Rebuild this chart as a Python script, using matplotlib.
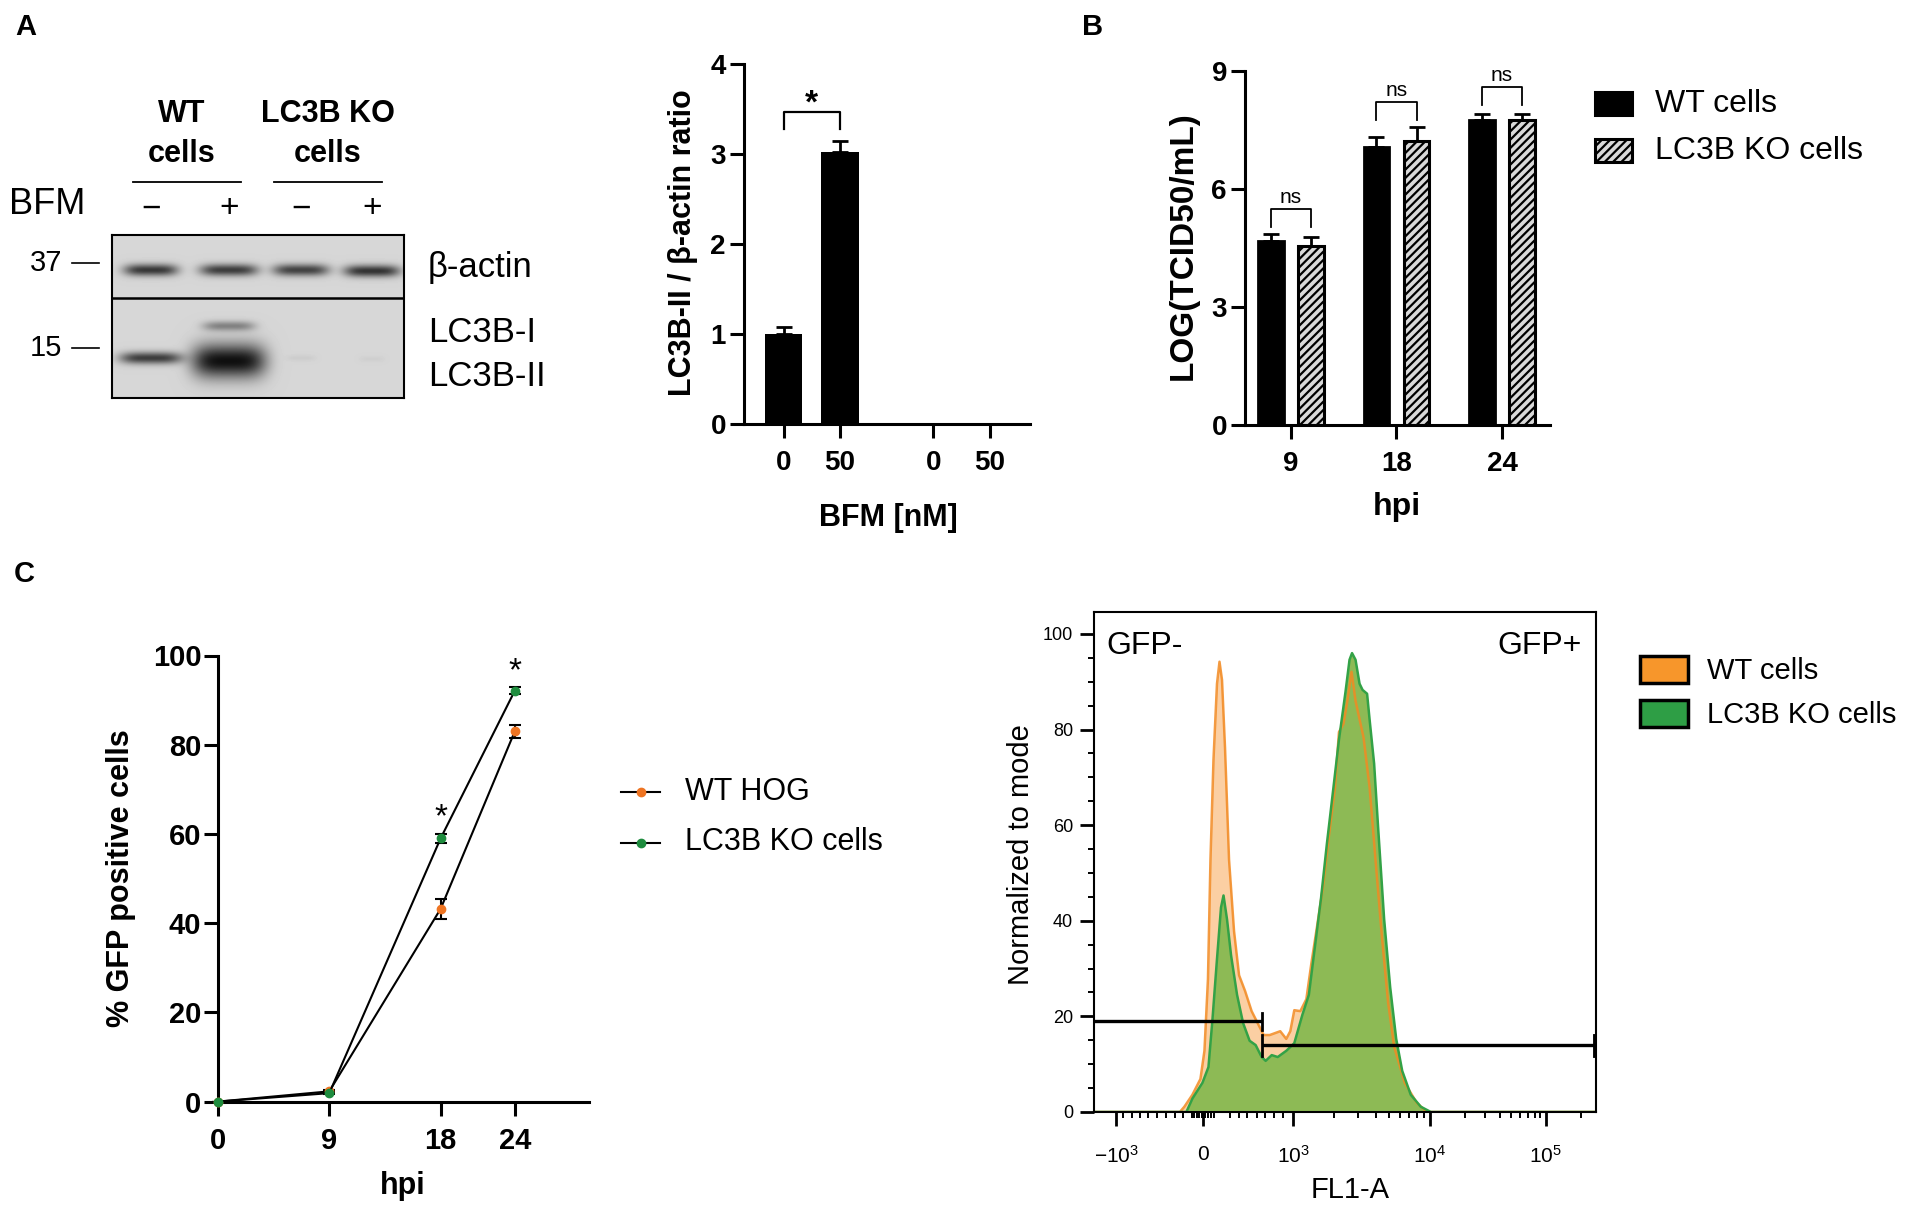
import numpy as np
import matplotlib
matplotlib.use("Agg")
import matplotlib.pyplot as plt
from matplotlib.patches import Rectangle

W, H = 1908, 1206

plt.rcParams['font.family'] = ['Liberation Sans', 'DejaVu Sans']
plt.rcParams['hatch.linewidth'] = 1.6

# ---------------- data ----------------
# A, western blot: lanes WT-, WT+, KO-, KO+
blot_signs = ['\u2212', '+', '\u2212', '+']
lane_px = [39, 117, 189, 260]            # lane centres inside the blot (px)
# (lane, row, half width, half height, darkness)
blot_bands = [
    (0, 35, 27, 6, 0.62), (1, 35, 29, 6, 0.60), (2, 35, 28, 6, 0.58), (3, 36, 28, 6, 0.64),
    (1, 91, 26, 5, 0.32),
    (0, 123, 31, 6, 0.60), (1, 126, 37, 17, 0.78),
    (2, 123, 14, 3, 0.04), (3, 124, 12, 3, 0.03),
]

# A, densitometry
ratio_pos = [0, 1, 2.65, 3.65]
ratio_labels = ['0', '50', '0', '50']
ratio_mean = [1.00, 3.02, 0, 0]
ratio_err = [0.08, 0.12, 0, 0]

# B, virus titre
hpi_groups = ['9', '18', '24']
titre_wt = [4.68, 7.06, 7.75]
titre_wt_err = [0.18, 0.26, 0.16]
titre_ko = [4.56, 7.22, 7.75]
titre_ko_err = [0.21, 0.35, 0.16]
ns_top = [5.48, 8.21, 8.59]
titre_labels = ['WT cells', 'LC3B KO cells']

# C, % GFP positive cells
hpi = [0, 9, 18, 24]
gfp_wt = [0, 2.3, 43.2, 83.0]
gfp_wt_err = [0, 0.3, 2.3, 1.5]
gfp_ko = [0, 1.9, 59.0, 92.1]
gfp_ko_err = [0, 0.3, 1.0, 0.8]
star_hpi = [18, 24]
star_y = [63.6, 96.3]
line_labels = ['WT HOG', 'LC3B KO cells']
line_colors = ['#EE7422', '#1E8C3E']

# C, flow histogram (x in display channels 0-1000, y normalized to mode)
flow_x_wt = [0, 171, 180, 196, 212, 220, 227, 232, 238, 245, 250, 255, 261, 269, 279, 289,
             301, 314, 326, 338, 350, 371, 383, 391, 399, 411, 423, 433, 444, 456, 468, 480,
             488, 497, 505, 513, 521, 537, 549, 562, 574, 586, 598, 619, 643, 659, 667, 1000]
flow_y_wt = [0, 0, 1.1, 3.6, 6.9, 12.8, 27.8, 52.8, 73.7, 89.6, 94.2, 90.4, 76.2, 52.8, 37.8, 28.6,
             25.3, 21.1, 18.6, 16.1, 16.1, 16.9, 15.3, 16.9, 21.3, 21.1, 23.6, 31.1, 38.6, 47.0, 57.8, 67.9,
             79.5, 81.2, 86.2, 92.1, 86.0, 78.3, 67.9, 51.2, 36.1, 22.8, 13.6, 6.1, 1.9, 0.4, 0, 0]
flow_x_ko = [0, 184, 196, 216, 228, 236, 245, 253, 258, 265, 273, 285, 297, 310, 322, 334,
             342, 354, 366, 383, 399, 415, 428, 440, 452, 464, 476, 488, 501, 509, 514, 521,
             529, 535, 544, 549, 558, 566, 578, 590, 602, 614, 631, 651, 671, 1000]
flow_y_ko = [0, 0, 2.8, 6.1, 9.4, 19.4, 32.0, 42.8, 45.3, 40.3, 32.8, 24.5, 18.6, 14.9, 14.0, 11.5,
             10.7, 11.9, 11.5, 12.8, 14.4, 20.3, 24.5, 34.5, 44.5, 56.2, 67.0, 77.9, 87.9, 94.6, 96.0, 94.6,
             89.6, 88.3, 87.5, 82.1, 72.9, 59.5, 40.3, 26.1, 15.3, 8.6, 3.6, 1.1, 0, 0]
gate_neg = (0, 334, 19.0)
gate_pos = (334, 998, 14.0)
flow_major = [44, 217, 397, 669, 900]
flow_major_labels = [r'$\mathregular{-10^3}$', '0', r'$\mathregular{10^3}$',
                     r'$\mathregular{10^4}$', r'$\mathregular{10^5}$']
flow_lin_minor = [58, 75, 92, 108, 125, 143, 161, 178, 195, 200, 205, 210, 215, 222, 228,
                  234, 240, 271, 288, 304, 324, 341, 359, 377]
flow_labels = ['WT cells', 'LC3B KO cells']
flow_colors = ['#F7962B', '#2E9E45']


def px_axes(fig, rect):
    l, t, r, b = rect
    return fig.add_axes([l / W, 1 - b / H, (r - l) / W, (b - t) / H])


def label_at(ax, rect, which, x, y):
    l, t, r, b = rect
    axis = ax.xaxis if which == 'x' else ax.yaxis
    axis.set_label_coords((x - l) / (r - l), (b - y) / (b - t))
    axis.label.set_va('center')


def prism(ax, fs=20):
    for s in ['top', 'right']:
        ax.spines[s].set_visible(False)
    for s in ['left', 'bottom']:
        ax.spines[s].set_linewidth(2.2)
    ax.tick_params(width=2.2, length=10, labelsize=fs)
    for lab in ax.get_xticklabels() + ax.get_yticklabels():
        lab.set_fontweight('bold')


fig = plt.figure(figsize=(W / 100, H / 100), dpi=100)
ov = fig.add_axes([0, 0, 1, 1])
ov.set_xlim(0, W)
ov.set_ylim(H, 0)
ov.axis('off')

# panel letters
for letter, (x, y) in zip('ABC', [(26, 27), (1093, 27), (24, 574)]):
    ov.text(x, y, letter, fontsize=21, fontweight='bold', ha='center', va='center')

# ---------------- A: blot ----------------
blot_rect = (112, 235, 404, 398)
axb = px_axes(fig, blot_rect)
rows = np.arange(163)[:, None] + 0.5
cols = np.arange(292)[None, :] + 0.5
img = np.full((163, 292), 0.84)
for lane, row, hw, hh, dark in blot_bands:
    cx = lane_px[lane]
    img -= dark * np.exp(-np.abs((cols - cx) / hw) ** 4 - ((rows - row) / hh) ** 2)
img = np.clip(img, 0, 1)
axb.imshow(img, cmap='gray', vmin=0, vmax=1, extent=(0, 292, 163, 0), aspect='auto',
           interpolation='bilinear')
axb.axhline(63, color='black', lw=1.8)
axb.set_xticks([])
axb.set_yticks([])
for s in axb.spines.values():
    s.set_linewidth(1.5)

for x, s in zip(lane_px, blot_signs):
    ov.text(112 + x, 209, s, fontsize=24, ha='center', va='center')
ov.text(9, 205, 'BFM', fontsize=26, ha='left', va='center')
for cx, l1, (x0, x1) in [(182, 'WT', (133, 241)), (328, 'LC3B KO', (274, 382))]:
    ov.text(cx, 114, l1, fontsize=22, fontweight='bold', ha='center', va='center')
    ov.text(cx, 154, 'cells', fontsize=22, fontweight='bold', ha='center', va='center')
    ov.plot([x0, x1], [182, 182], color='black', lw=1.3)
for y, mw in [(263, '37'), (348, '15')]:
    ov.text(62, y, mw, fontsize=21, ha='right', va='center')
    ov.plot([72, 99], [y, y], color='black', lw=1.2)
for y, name in [(268, '\u03b2-actin'), (332, 'LC3B-I'), (377, 'LC3B-II')]:
    ov.text(428, y, name, fontsize=25, ha='left', va='center')

# ---------------- A: ratio bars ----------------
ra_rect = (744, 64, 1029.5, 424)
axa = px_axes(fig, ra_rect)
axa.bar(ratio_pos, ratio_mean, width=0.66, color='black')
has = np.array(ratio_mean) > 0
axa.errorbar(np.array(ratio_pos)[has], np.array(ratio_mean)[has],
             yerr=[np.zeros(has.sum()), np.array(ratio_err)[has]],
             fmt='none', ecolor='black', elinewidth=2, capsize=6, capthick=2)
axa.set_xlim(-0.70, 4.35)
axa.set_ylim(0, 4)
axa.set_yticks([0, 1, 2, 3, 4])
axa.set_xticks(ratio_pos, ratio_labels)
axa.tick_params(axis='y', pad=3)
axa.tick_params(axis='x', pad=9)
prism(axa, 20)
axa.plot([0, 0, 1, 1], [3.28, 3.47, 3.47, 3.28], color='black', lw=1.6)
axa.text(0.5, 3.56, '*', fontsize=24, fontweight='bold', ha='center', va='center')
axa.set_ylabel('LC3B-II / \u03b2-actin ratio', fontsize=22, fontweight='bold')
axa.set_xlabel('BFM [nM]', fontsize=22, fontweight='bold')
label_at(axa, ra_rect, 'y', 683, 243)
label_at(axa, ra_rect, 'x', 888, 518)

# ---------------- B: titre ----------------
b_rect = (1245, 71, 1550, 425)
axt = px_axes(fig, b_rect)
gx = np.arange(len(hpi_groups))
off, bw = 0.19, 0.24
axt.bar(gx - off, titre_wt, width=bw, color='black', edgecolor='black', lw=2)
axt.bar(gx + off, titre_ko, width=bw, color='#d9d9d9', edgecolor='black', lw=2.2, hatch='////')
for xs, m, e in [(gx - off, titre_wt, titre_wt_err), (gx + off, titre_ko, titre_ko_err)]:
    axt.errorbar(xs, m, yerr=[np.zeros(len(e)), e], fmt='none', ecolor='black',
                 elinewidth=2, capsize=5.5, capthick=2)
for x, top in zip(gx, ns_top):
    axt.plot([x - off, x - off, x + off, x + off], [top - 0.45, top, top, top - 0.45],
             color='black', lw=1.3)
    axt.text(x, top + 0.3, 'ns', fontsize=15, ha='center', va='center')
axt.set_xlim(-0.436, 2.455)
axt.set_ylim(0, 9)
axt.set_yticks([0, 3, 6, 9])
axt.set_xticks(gx, hpi_groups)
axt.tick_params(axis='y', pad=3)
axt.tick_params(axis='x', pad=9)
prism(axt, 20)
axt.set_ylabel('LOG(TCID50/mL)', fontsize=24, fontweight='bold')
axt.set_xlabel('hpi', fontsize=23, fontweight='bold')
label_at(axt, b_rect, 'y', 1183, 246)
label_at(axt, b_rect, 'x', 1397, 507)

for i, lab in enumerate(titre_labels):
    y0 = 92 + 47 * i
    ov.add_patch(Rectangle((1595, y0), 37, 23, facecolor='black' if i == 0 else '#d9d9d9',
                           edgecolor='black', lw=2.2, hatch=None if i == 0 else '////'))
    ov.text(1655, y0 + 12, lab, fontsize=23, ha='left', va='center')

# ---------------- C: GFP kinetics ----------------
c_rect = (218, 655.5, 589, 1101.6)
axc = px_axes(fig, c_rect)
for m, e, col in [(gfp_wt, gfp_wt_err, line_colors[0]), (gfp_ko, gfp_ko_err, line_colors[1])]:
    axc.errorbar(hpi, m, yerr=e, color='black', lw=1.5, elinewidth=1.5, capsize=4, capthick=1.5,
                 marker='o', ms=6, mfc=col, mec=col, clip_on=False, zorder=3)
for x, y in zip(star_hpi, star_y):
    axc.text(x, y, '*', fontsize=24, ha='center', va='center')
axc.set_xlim(0, 30)
axc.set_ylim(0, 100)
axc.set_xticks(hpi)
axc.set_yticks(range(0, 101, 20))
axc.tick_params(axis='y', pad=2)
axc.tick_params(axis='x', pad=8)
prism(axc, 21)
axc.set_ylabel('% GFP positive cells', fontsize=22, fontweight='bold')
axc.set_xlabel('hpi', fontsize=22, fontweight='bold')
label_at(axc, c_rect, 'y', 121, 878)
label_at(axc, c_rect, 'x', 403, 1186)

for i, (lab, col) in enumerate(zip(line_labels, line_colors)):
    y = 791.5 + 51 * i
    ov.plot([621, 660], [y, y], color='black', lw=1.5)
    ov.plot([641], [y], 'o', ms=6, color=col)
    ov.text(685, y, lab, fontsize=22, ha='left', va='center')

# ---------------- C: flow histogram ----------------
f_rect = (1094, 612, 1596, 1112)
axf = px_axes(fig, f_rect)
axf.fill_between(flow_x_wt, flow_y_wt, color='#FBCFA3', lw=0)
axf.fill_between(flow_x_ko, flow_y_ko, color='#8DBA55', lw=0)
axf.plot(flow_x_wt, flow_y_wt, color='#F28A22', lw=1.8, alpha=0.85)
axf.plot(flow_x_ko, flow_y_ko, color='#33A246', lw=1.8)
for x0, x1, y in [gate_neg, gate_pos]:
    axf.plot([x0, x1], [y, y], color='black', lw=2.4, solid_capstyle='butt')
axf.plot([gate_neg[1]] * 2, [gate_neg[2] - 1.8, gate_neg[2] + 1.8], color='black', lw=2)
axf.plot([gate_pos[0]] * 2, [gate_pos[2] - 2.2, gate_pos[2] + 2.2], color='black', lw=2)
axf.plot([gate_pos[1]] * 2, [gate_pos[2] - 2.0, gate_pos[2] + 2.0], color='black', lw=3.5)
axf.set_xlim(0, 1000)
axf.set_ylim(0, 104.6)
axf.set_yticks(range(0, 101, 20))
axf.set_yticks(np.arange(0, 105, 5), minor=True)
decades = [(flow_major[2], flow_major[3]), (flow_major[3], flow_major[4])]
log_minor = [d0 + np.log10(k) * (d1 - d0) for d0, d1 in decades for k in range(2, 10)]
log_minor.append(flow_major[4] + np.log10(2) * (flow_major[4] - flow_major[3]))
axf.set_xticks(flow_major, flow_major_labels)
axf.set_xticks(flow_lin_minor + log_minor, minor=True)
axf.tick_params(which='major', width=2, length=10, colors='black')
axf.tick_params(which='minor', width=1.4, length=4.5)
axf.tick_params(axis='x', pad=14, labelsize=15)
axf.tick_params(axis='y', pad=5, labelsize=13)
for s in axf.spines.values():
    s.set_linewidth(1.5)
axf.text(12 / 502 * 1000, 104.6 - 34 / 500 * 104.6, 'GFP-', fontsize=23, ha='left', va='center')
axf.text(1000 - 14 / 502 * 1000, 104.6 - 34 / 500 * 104.6, 'GFP+', fontsize=23, ha='right', va='center')
axf.set_ylabel('Normalized to mode', fontsize=21)
axf.set_xlabel('FL1-A', fontsize=21)
label_at(axf, f_rect, 'y', 1021, 855)
label_at(axf, f_rect, 'x', 1350, 1190)

for i, (lab, col) in enumerate(zip(flow_labels, flow_colors)):
    y0 = 656 + 44 * i
    ov.add_patch(Rectangle((1640, y0), 48, 27, facecolor=col, edgecolor='black', lw=2.5))
    ov.text(1707, y0 + 15, lab, fontsize=21, ha='left', va='center')

fig.savefig('out.png', dpi=100)
